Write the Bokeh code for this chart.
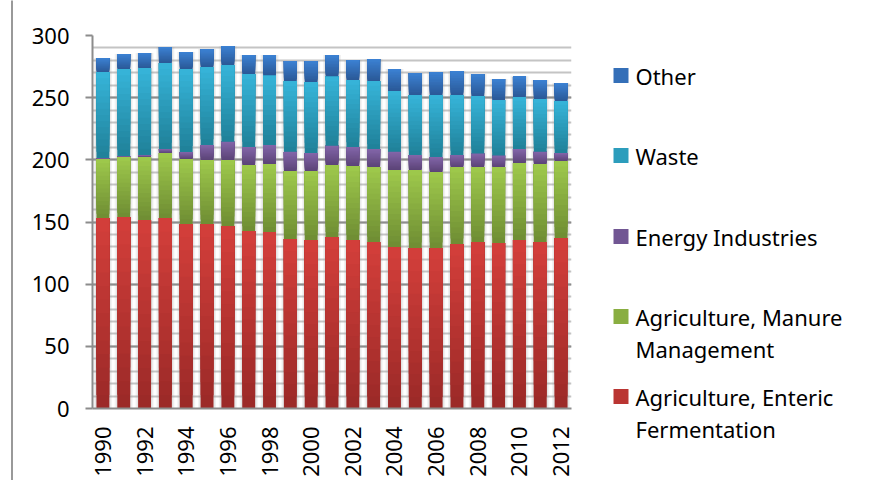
import numpy as np
from bokeh.plotting import figure
from bokeh.models import Range1d, SingleIntervalTicker, FixedTicker
from bokeh.core.properties import value
from bokeh.embed import file_html
from bokeh.resources import INLINE

# ---------------- data ----------------
years = list(range(1990, 2013))
label_years = years[::2]

enteric = [153.2, 154.0, 151.6, 153.2, 148.4, 148.4, 146.8, 142.8, 142.0, 136.3, 135.5, 137.9,
           135.5, 133.9, 129.9, 129.1, 129.1, 132.3, 133.9, 133.1, 135.5, 133.9, 137.1]
manure = [47.5, 48.3, 50.7, 52.3, 52.3, 51.5, 53.1, 53.1, 54.7, 54.7, 55.5, 57.9,
          59.5, 60.3, 61.9, 62.7, 61.1, 61.9, 60.3, 61.1, 62.0, 62.7, 62.0]
energy = [0.8, 0.8, 1.6, 3.2, 5.6, 12.1, 14.7, 14.4, 15.3, 15.5, 14.5, 15.5,
          15.3, 14.5, 14.7, 12.1, 12.1, 9.7, 10.8, 9.2, 11.2, 9.9, 6.4]
waste = [69.1, 69.9, 69.9, 69.2, 66.7, 62.6, 61.6, 58.7, 56.1, 56.9, 57.1, 56.0,
         53.9, 54.7, 48.8, 48.2, 49.8, 48.2, 46.3, 44.7, 41.8, 42.4, 41.8]
other = [11.3, 12.1, 12.1, 12.9, 13.7, 14.5, 15.4, 15.3, 16.2, 16.1, 16.9, 17.0,
         16.1, 17.7, 17.7, 17.7, 18.5, 19.3, 17.7, 16.9, 16.8, 15.3, 14.5]

series_names = ["Agriculture, Enteric\nFermentation", "Agriculture, Manure\nManagement",
                "Energy Industries", "Waste", "Other"]
series_values = [enteric, manure, energy, waste, other]
# (bottom/dark colour, top/light colour) per series
series_colors = [("#9a2927", "#d43f3b"), ("#6e8c33", "#9fca4c"), ("#5b4376", "#8366aa"),
                 ("#1f8098", "#37b5da"), ("#2a5896", "#3c82d4")]

FONT = "Noto Sans"


def mix(c1, c2, t):
    a = [int(c1[i:i + 2], 16) for i in (1, 3, 5)]
    b = [int(c2[i:i + 2], 16) for i in (1, 3, 5)]
    return "#" + "".join("%02x" % int(round(a[j] + (b[j] - a[j]) * t)) for j in range(3))


# ---------------- chart ----------------
FL, FT, FR, FB = 92, 37, 571, 410  # frame edges on the page (px)
W, H = 857, 480
BT = 35  # top border of the figure
p = figure(width=W, height=H, x_range=Range1d(1989.5, 2012.5), y_range=Range1d(0, 300),
           output_backend="svg", toolbar_location=None,
           min_border_left=FL, min_border_top=BT,
           min_border_bottom=H - BT - (FB - FT), min_border_right=W - FR)
p.outline_line_color = None
p.background_fill_color = "#ffffff"
p.border_fill_color = "#ffffff"
# pixel-space ranges for the legend (page coordinates)
p.extra_x_ranges = {"px": Range1d(FL, FR)}
p.extra_y_ranges = {"px": Range1d(FB, FT)}

x = np.array(years, dtype=float)
totals = np.sum(np.array(series_values), axis=0)

# soft shadow around bars
p.vbar(x=x, top=totals, bottom=0, width=0.86, fill_color="#9a9a9a", fill_alpha=0.14, line_color=None)
p.vbar(x=x, top=totals, bottom=0, width=0.74, fill_color="#9a9a9a", fill_alpha=0.16, line_color=None)

base = np.zeros(len(years))
N = 14
for vals, (dark, light) in zip(series_values, series_colors):
    v = np.array(vals, dtype=float)
    top = base + v
    for k in range(N):
        b = base + v * k / N
        p.vbar(x=x, bottom=b, top=top, width=0.62, fill_color=mix(dark, light, (k + 0.5) / N),
               line_color=None)
    base = top

p.yaxis.ticker = SingleIntervalTicker(interval=50, num_minor_ticks=5)
p.xaxis.ticker = FixedTicker(ticks=label_years)
p.xgrid.grid_line_color = None
p.ygrid.grid_line_color = "#8c8c8c"
p.ygrid.grid_line_width = 2
p.ygrid.minor_grid_line_color = "#c4c4c4"
p.ygrid.minor_grid_line_width = 2

for ax in (p.xaxis, p.yaxis):
    ax.axis_line_color = "#8c8c8c"
    ax.axis_line_width = 2
    ax.major_label_text_font = FONT
    ax.major_label_text_font_size = "22px"
    ax.major_label_text_color = "#000000"
    ax.minor_tick_line_color = None

p.yaxis.major_tick_line_color = "#8c8c8c"
p.yaxis.major_tick_line_width = 2
p.yaxis.major_tick_out = 7
p.yaxis.major_tick_in = 0
p.yaxis.major_label_standoff = 16

p.xaxis.major_tick_line_color = None
p.xaxis.major_tick_out = 0
p.xaxis.major_tick_in = 0
p.xaxis.major_label_orientation = np.pi / 2
p.xaxis.major_label_standoff = 18

# ---------------- legend (drawn in page pixel space, not clipped) ----------------
order = [4, 3, 2, 1, 0]  # Other at top
item_y = [77, 157, 238, 318, 398]
ql, qr, qt, qb, qc = [], [], [], [], []
tx, ty, tt = [], [], []
for idx, yy in zip(order, item_y):
    dark, light = series_colors[idx]
    ql.append(613)
    qr.append(628)
    qt.append(yy - 7.5)
    qb.append(yy + 7.5)
    qc.append(mix(dark, light, 0.55))
    for li, line in enumerate(series_names[idx].split("\n")):
        tx.append(635)
        ty.append(yy + li * 32)
        tt.append(line)

r1 = p.quad(left=ql, right=qr, top=qt, bottom=qb, fill_color=qc, line_color=None,
            x_range_name="px", y_range_name="px")
r2 = p.text(x=tx, y=ty, text=tt, text_font=value(FONT), text_font_size="22px",
            text_baseline="middle", text_align="left", text_color="#000000",
            x_range_name="px", y_range_name="px")
# chart-area frame line on the left
r3 = p.segment(x0=[11.5], y0=[2], x1=[11.5], y1=[496], line_color="#999999", line_width=2,
               x_range_name="px", y_range_name="px")
for r in (r1, r2, r3):
    r.level = "overlay"

open("out.html", "w").write(file_html(p, INLINE))
